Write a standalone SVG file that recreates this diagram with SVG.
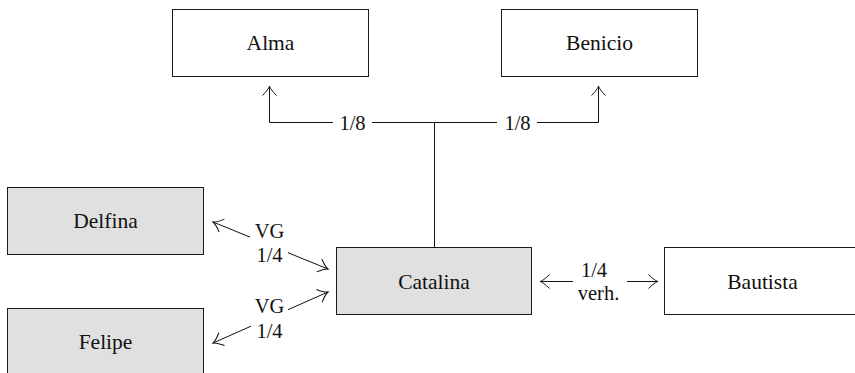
<svg xmlns="http://www.w3.org/2000/svg" width="855" height="373" viewBox="0 0 855 373">
  <style>
    .box { fill: #ffffff; stroke: #1a1a1a; stroke-width: 1; }
    .box.shaded { fill: #e0e0e0; }
    .name { font-family: "Liberation Serif", "Times New Roman", serif; font-size: 21.5px; fill: #111; text-anchor: middle; }
    .lbl { font-family: "Liberation Serif", "Times New Roman", serif; font-size: 20.5px; fill: #111; text-anchor: middle; }
    .wire { fill: none; stroke: #111; stroke-width: 1; }
  </style>
  <defs>
    <marker id="tip" viewBox="-12 -9 14 18" markerWidth="14" markerHeight="18" refX="0" refY="0" orient="auto" markerUnits="userSpaceOnUse">
      <path d="M -9.5 -7 C -5 -2.5 -2 -0.6 0 0 C -2 0.6 -5 2.5 -9.5 7" fill="none" stroke="#111" stroke-width="1"/>
    </marker>
  </defs>

  <!-- nodes -->
  <g id="alma">
    <rect class="box" x="172.5" y="9.5" width="196" height="67"/>
    <text class="name" x="270.5" y="49.5">Alma</text>
  </g>
  <g id="benicio">
    <rect class="box" x="501.5" y="9.5" width="196" height="67"/>
    <text class="name" x="599.5" y="49.5">Benicio</text>
  </g>
  <g id="delfina">
    <rect class="box shaded" x="7.5" y="187.5" width="196" height="67"/>
    <text class="name" x="105.5" y="228">Delfina</text>
  </g>
  <g id="felipe">
    <rect class="box shaded" x="7.5" y="308.5" width="196" height="67"/>
    <text class="name" x="105.5" y="349">Felipe</text>
  </g>
  <g id="catalina">
    <rect class="box shaded" x="336.5" y="247.5" width="195" height="67"/>
    <text class="name" x="434" y="289">Catalina</text>
  </g>
  <g id="bautista">
    <rect class="box" x="664.5" y="247.5" width="196" height="67"/>
    <text class="name" x="762.5" y="289">Bautista</text>
  </g>

  <!-- connectors -->
  <g id="connectors">
    <!-- Catalina up to the split towards Alma and Benicio -->
    <path class="wire" d="M 434.5 247.5 V 122.5"/>
    <path class="wire" d="M 372 122.5 H 497"/>
    <path class="wire" d="M 333 122.5 H 269.5 V 86" marker-end="url(#tip)"/>
    <path class="wire" d="M 537 122.5 H 598.5 V 86" marker-end="url(#tip)"/>
    <text class="lbl" x="352.5" y="129.5">1/8</text>
    <text class="lbl" x="517.5" y="129.5">1/8</text>

    <!-- Delfina <-> Catalina -->
    <path class="wire" d="M 250 237.1 L 213 222" marker-end="url(#tip)"/>
    <path class="wire" d="M 288 252.7 L 328 269" marker-end="url(#tip)"/>
    <text class="lbl" x="269.5" y="237.5">VG</text>
    <text class="lbl" x="269.5" y="262">1/4</text>

    <!-- Felipe <-> Catalina -->
    <path class="wire" d="M 288 309.7 L 328 292" marker-end="url(#tip)"/>
    <path class="wire" d="M 251 326.2 L 213 343" marker-end="url(#tip)"/>
    <text class="lbl" x="269.5" y="313">VG</text>
    <text class="lbl" x="269.5" y="338">1/4</text>

    <!-- Catalina <-> Bautista -->
    <path class="wire" d="M 573 281.5 H 540" marker-end="url(#tip)"/>
    <path class="wire" d="M 627 281.5 H 658" marker-end="url(#tip)"/>
    <text class="lbl" x="594" y="277">1/4</text>
    <text class="lbl" x="598.5" y="300">verh.</text>
  </g>
</svg>
